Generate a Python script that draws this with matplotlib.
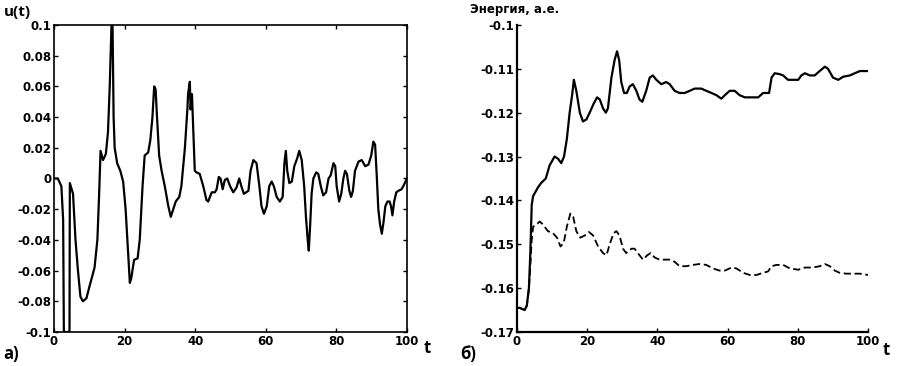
import matplotlib
matplotlib.use("Agg")
import matplotlib.pyplot as plt

# Панель а): u(t)
t_u = [0, 1.1, 2.1, 2.6, 2.8, 3.5, 4.4, 4.5, 5.4, 6.1, 6.8, 7.5, 8.2, 9.2, 10.1, 11.5,
       12.3, 12.8, 13.2, 13.9, 14.7, 15.3, 15.8, 16.3, 16.6, 16.9, 17.2, 17.9, 18.8,
       19.6, 20.3, 20.8, 21.5, 21.9, 22.7, 23.7, 24.3, 25.1, 25.7, 26.7, 27.3, 27.9,
       28.4, 28.8, 29.2, 29.8, 30.5, 31.4, 32.4, 33.1, 33.8, 34.5, 35.5, 36.1, 37.1,
       37.8, 38.0, 38.5, 38.7, 39.1, 39.5, 39.9, 40.4, 41.3, 42.3, 43.2, 43.7, 44.7,
       45.6, 46.1, 46.7, 47.2, 47.8, 48.4, 49.1, 49.9, 50.8, 51.7, 52.5, 53.1, 53.8,
       55.1, 55.7, 56.5, 57.4, 58.2, 58.8, 59.5, 60.3, 61.0, 61.7, 62.3, 63.1, 64.0,
       64.8, 65.3, 65.7, 66.1, 66.7, 67.4, 68.1, 68.9, 69.5, 70.2, 70.9, 71.4, 71.9,
       72.2, 72.6, 73.0, 73.5, 74.3, 74.9, 75.6, 76.3, 77.1, 77.8, 78.4, 79.2, 79.7,
       80.1, 80.8, 81.4, 82.0, 82.5, 83.0, 83.7, 84.2, 84.7, 85.3, 86.3, 87.2, 88.2,
       89.1, 89.9, 90.5, 91.0, 91.5, 91.9, 92.4, 92.9, 93.4, 93.9, 94.5, 95.1, 95.5,
       95.9, 96.4, 97.0, 97.6, 98.5, 99.2, 100]
u = [0.0, 0.0, -0.005, -0.027, -0.1, -0.1, -0.1, -0.003, -0.01, -0.04, -0.06, -0.077,
     -0.08, -0.078, -0.07, -0.058, -0.04, -0.01, 0.018, 0.012, 0.016, 0.03, 0.06, 0.1,
     0.1, 0.04, 0.02, 0.01, 0.005, -0.002, -0.02, -0.04, -0.068, -0.065, -0.053,
     -0.052, -0.04, -0.005, 0.015, 0.017, 0.025, 0.04, 0.06, 0.058, 0.04, 0.015,
     0.005, -0.005, -0.018, -0.025, -0.02, -0.015, -0.012, -0.005, 0.02, 0.045,
     0.055, 0.063, 0.045, 0.055, 0.03, 0.005, 0.004, 0.003, -0.005, -0.014, -0.015,
     -0.009, -0.009, -0.007, 0.001, 0.0, -0.007, -0.001, 0.0, -0.005, -0.009, -0.006,
     0.0, -0.005, -0.01, -0.008, 0.005, 0.012, 0.01, -0.005, -0.018, -0.023, -0.018,
     -0.005, -0.002, -0.005, -0.012, -0.015, -0.012, 0.01, 0.018, 0.005, -0.003,
     -0.002, 0.008, 0.013, 0.018, 0.012, -0.005, -0.025, -0.04, -0.047, -0.03, -0.01,
     0.0, 0.004, 0.003, -0.005, -0.011, -0.009, 0.0, 0.002, 0.01, 0.008, -0.005,
     -0.015, -0.01, 0.0, 0.005, 0.003, -0.008, -0.012, -0.008, 0.005, 0.011, 0.012,
     0.008, 0.009, 0.015, 0.024, 0.022, 0.0, -0.02, -0.03, -0.036, -0.028, -0.018,
     -0.015, -0.015, -0.018, -0.024, -0.015, -0.009, -0.008, -0.007, -0.004, 0.0]

# Панель б): энергия, сплошная линия
t_e1 = [0, 0.8, 2.2, 2.8, 3.4, 3.8, 4.2, 4.6, 6.0, 6.9, 8.2, 9.3, 10.7, 11.7, 12.6,
        13.4, 14.2, 15.0, 15.7, 16.2, 16.9, 17.9, 18.8, 19.8, 20.7, 21.8, 22.8, 23.6,
        24.5, 25.3, 25.9, 26.9, 27.8, 28.5, 29.1, 29.7, 30.5, 31.3, 32.1, 33.0, 34.0,
        34.9, 35.7, 36.8, 37.8, 38.7, 39.7, 41.1, 42.5, 43.5, 44.9, 46.3, 47.8, 49.2,
        50.6, 52.5, 53.9, 55.4, 56.8, 58.2, 59.2, 60.6, 62.0, 63.4, 64.9, 66.8, 68.7,
        70.1, 71.0, 71.8, 72.5, 73.4, 74.8, 75.8, 77.2, 78.6, 80.1, 81.0, 82.0, 83.4,
        84.8, 86.2, 87.7, 88.6, 90.0, 91.5, 92.9, 94.8, 96.2, 97.7, 100]
e1 = [-0.1645, -0.1645, -0.165, -0.164, -0.16, -0.152, -0.141, -0.139, -0.137,
      -0.136, -0.135, -0.132, -0.13, -0.1305, -0.1315, -0.13, -0.126, -0.12, -0.116,
      -0.1125, -0.115, -0.12, -0.122, -0.1215, -0.12, -0.118, -0.1165, -0.117,
      -0.119, -0.12, -0.119, -0.112, -0.108, -0.106, -0.108, -0.113, -0.1155,
      -0.1155, -0.114, -0.1135, -0.115, -0.117, -0.1175, -0.115, -0.112, -0.1115,
      -0.1125, -0.1135, -0.113, -0.1135, -0.115, -0.1155, -0.1155, -0.115, -0.1145,
      -0.1145, -0.115, -0.1155, -0.116, -0.1168, -0.116, -0.115, -0.115, -0.116,
      -0.1165, -0.1165, -0.1165, -0.1155, -0.1155, -0.1155, -0.112, -0.111, -0.1112,
      -0.1115, -0.1125, -0.1125, -0.1125, -0.1115, -0.111, -0.1115, -0.1115,
      -0.1105, -0.1095, -0.11, -0.112, -0.1125, -0.1118, -0.1115, -0.111, -0.1105,
      -0.1105]

# Панель б): энергия, штриховая линия
t_e2 = [0, 0.8, 2.2, 2.8, 3.4, 3.8, 4.2, 4.6, 5.5, 6.5, 7.4, 8.8, 10.3, 11.4, 12.4,
        13.3, 14.2, 15.2, 16.0, 16.9, 18.0, 19.3, 20.5, 21.7, 23.1, 24.5, 25.5, 26.4,
        27.5, 28.3, 29.2, 30.2, 31.1, 32.6, 33.5, 34.9, 35.9, 37.1, 38.1, 39.2, 40.6,
        42.1, 43.5, 44.9, 46.3, 48.2, 50.1, 52.0, 53.9, 55.8, 57.7, 59.2, 61.1, 62.5,
        64.4, 66.3, 68.2, 70.1, 71.5, 72.5, 73.9, 75.8, 77.7, 80.1, 82.0, 84.3, 86.2,
        87.7, 89.1, 90.5, 91.9, 93.8, 95.7, 97.7, 100]
e2 = [-0.1645, -0.1645, -0.165, -0.164, -0.16, -0.155, -0.149, -0.146, -0.1455,
      -0.1448, -0.1455, -0.147, -0.1475, -0.1485, -0.1505, -0.1497, -0.146, -0.143,
      -0.1437, -0.147, -0.1485, -0.148, -0.1472, -0.148, -0.1505, -0.152, -0.1525,
      -0.15, -0.1475, -0.147, -0.148, -0.151, -0.152, -0.151, -0.151, -0.1525,
      -0.1535, -0.1525, -0.152, -0.153, -0.1535, -0.1535, -0.1535, -0.154, -0.155,
      -0.155, -0.1547, -0.1545, -0.1547, -0.1555, -0.156, -0.156, -0.1553, -0.1555,
      -0.1565, -0.157, -0.157, -0.1565, -0.1562, -0.155, -0.1547, -0.1547, -0.1555,
      -0.1558, -0.1553, -0.1553, -0.155, -0.1545, -0.155, -0.156, -0.1565, -0.1567,
      -0.1567, -0.1567, -0.157]

u_ticks = [-0.1, -0.08, -0.06, -0.04, -0.02, 0, 0.02, 0.04, 0.06, 0.08, 0.1]
u_labels = ["-0.1", "-0.08", "-0.06", "-0.04", "-0.02", "0", "0.02", "0.04", "0.06", "0.08", "0.1"]
e_ticks = [-0.17, -0.16, -0.15, -0.14, -0.13, -0.12, -0.11, -0.1]
e_labels = ["-0.17", "-0.16", "-0.15", "-0.14", "-0.13", "-0.12", "-0.11", "-0.1"]
t_ticks = [0, 20, 40, 60, 80, 100]

plt.rcParams["font.family"] = ["Liberation Sans Narrow", "DejaVu Sans"]
plt.rcParams["font.weight"] = "bold"

fig = plt.figure(figsize=(8.98, 3.66), dpi=100)
ax1 = fig.add_axes([0.0601, 0.0929, 0.393, 0.8388])
ax2 = fig.add_axes([0.5757, 0.0929, 0.391, 0.8388])

ax1.plot(t_u, u, color="black", lw=1.6)
ax1.set_xlim(0, 100)
ax1.set_ylim(-0.1, 0.1)
ax1.set_yticks(u_ticks)
ax1.set_yticklabels(u_labels)
ax1.set_xticks(t_ticks)
ax1.tick_params(direction="in", length=3, width=1, labelsize=8.5, pad=2,
                top=True, right=True)
for s in ax1.spines.values():
    s.set_linewidth(1.2)

ax2.plot(t_e1, e1, color="black", lw=1.6)
ax2.plot(t_e2, e2, color="black", lw=1.3, linestyle=(0, (4, 2)))
ax2.set_xlim(0, 100)
ax2.set_ylim(-0.17, -0.1)
ax2.set_yticks(e_ticks)
ax2.set_yticklabels(e_labels)
ax2.set_xticks(t_ticks)
ax2.tick_params(direction="in", length=3, width=1, labelsize=8.5, pad=2)
ax2.spines["top"].set_visible(False)
ax2.spines["right"].set_visible(False)
for s in ["left", "bottom"]:
    ax2.spines[s].set_linewidth(1.6)

fig.text(0.004, 0.955, "u(t)", fontsize=11, fontweight="bold", family=["Open Sans", "DejaVu Sans"])
fig.text(0.004, 0.02, "а)", fontsize=12, fontweight="bold", family=["Open Sans", "DejaVu Sans"])
fig.text(0.472, 0.035, "t", fontsize=12, fontweight="bold", family=["Open Sans", "DejaVu Sans"])
fig.text(0.513, 0.02, "б)", fontsize=12, fontweight="bold", family=["Open Sans", "DejaVu Sans"])
fig.text(0.983, 0.03, "t", fontsize=12, fontweight="bold", family=["Open Sans", "DejaVu Sans"])
fig.text(0.523, 0.965, "Энергия, а.е.", fontsize=8.5, fontweight="bold")

fig.savefig("out.png", dpi=100)
